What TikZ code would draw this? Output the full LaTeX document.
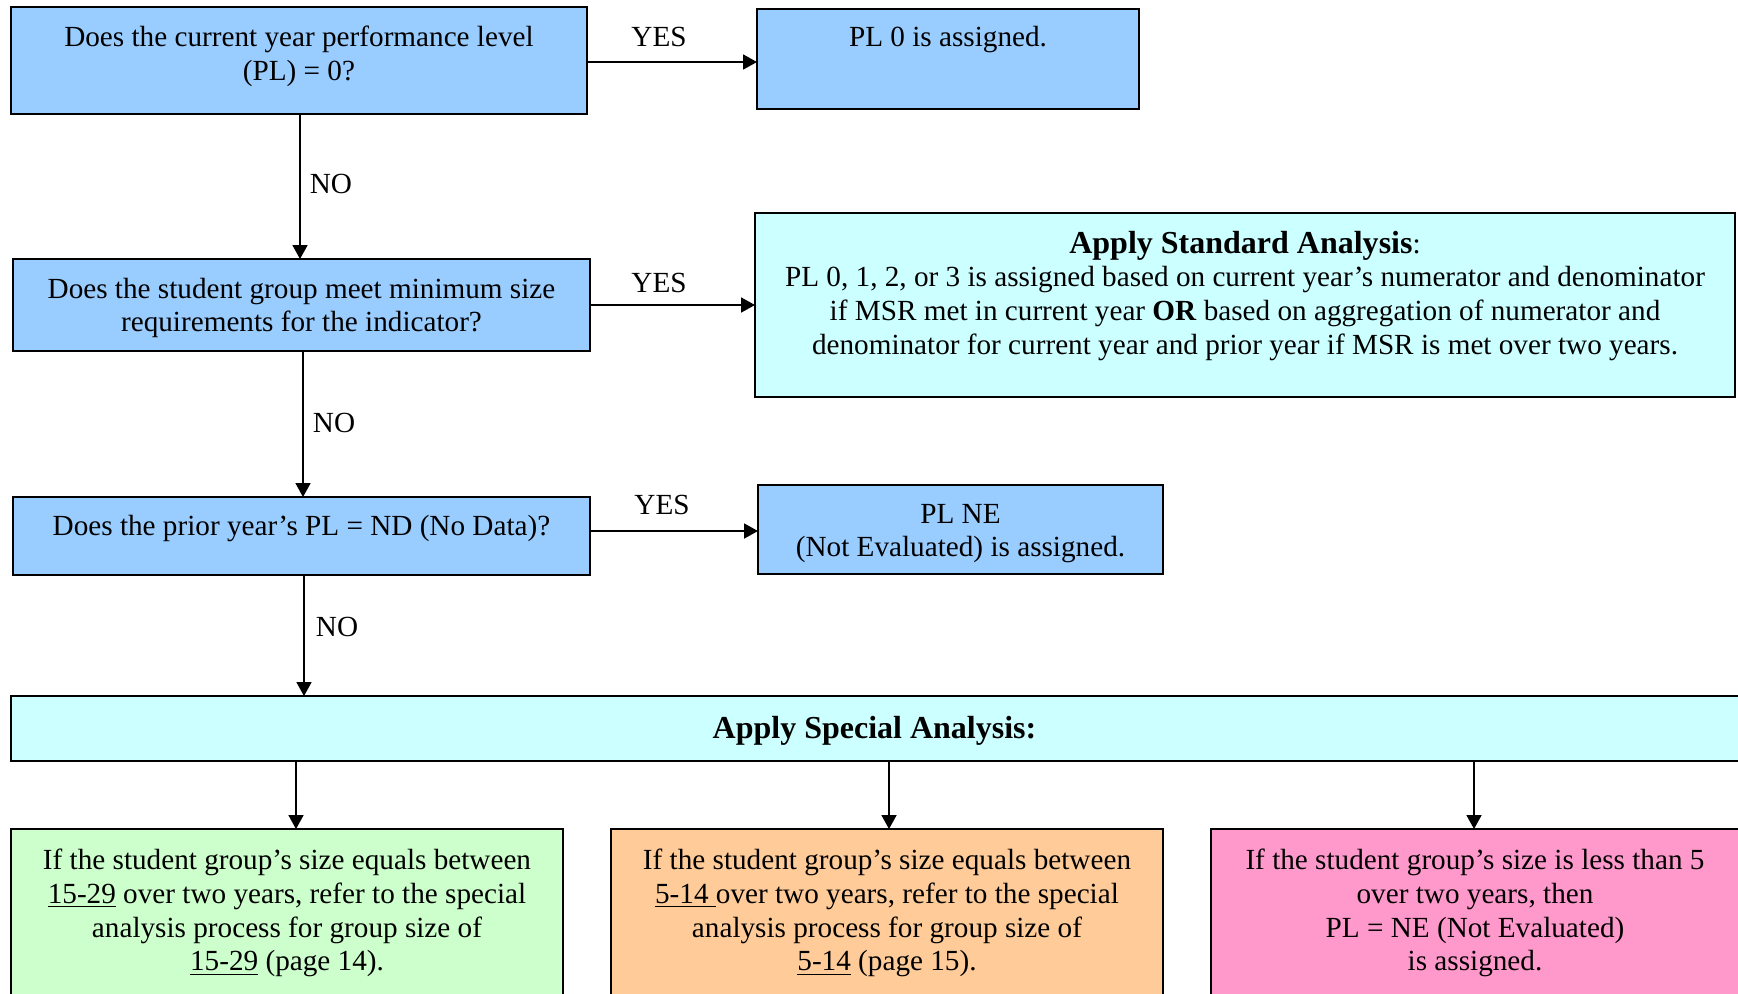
\documentclass[tikz,border=0pt]{standalone}
\usepackage{fontspec}
\setmainfont{Liberation Serif}
\usetikzlibrary{arrows.meta,calc}
\definecolor{qblue}{RGB}{153,204,255}
\definecolor{qcyan}{RGB}{204,255,255}
\definecolor{qgreen}{RGB}{204,255,204}
\definecolor{qorange}{RGB}{255,204,153}
\definecolor{qpink}{RGB}{255,153,204}
\newcommand{\headfont}{\fontsize{16}{16.9}\selectfont\bfseries}
\begin{document}
\begin{tikzpicture}[x=0.5pt,y=-0.5pt,
  box/.style={draw=black,line width=1.1pt,inner sep=0pt,outer sep=0pt},
  txt/.style={anchor=north,inner sep=0pt,align=center,font=\fontsize{14.6}{16.9}\selectfont},
  lbl/.style={inner sep=0pt,font=\fontsize{14.6}{16.9}\selectfont},
  arr/.style={line width=0.9pt,-{Triangle[length=7pt,width=7.5pt]}}]
\useasboundingbox (0,0) rectangle (1738,993);
\clip (0,0) rectangle (1738,993);
% boxes
\node[box,fill=qblue,minimum width=288pt,minimum height=53.5pt] (b1) at (299,60.5) {};
\node[box,fill=qblue,minimum width=191pt,minimum height=50pt] (pl0) at (948,59) {};
\node[box,fill=qblue,minimum width=288.5pt,minimum height=46pt] (b2) at (301.5,305) {};
\node[box,fill=qcyan,minimum width=490pt,minimum height=92pt] (std) at (1245,305) {};
\node[box,fill=qblue,minimum width=288.5pt,minimum height=39pt] (b3) at (301.5,536) {};
\node[box,fill=qblue,minimum width=202.5pt,minimum height=44.5pt] (ne) at (960.5,529.5) {};
\node[box,fill=qcyan,minimum width=865.5pt,minimum height=32.5pt] (sp) at (876.5,728.5) {};
\node[box,fill=qgreen,minimum width=276pt,minimum height=90.5pt] (gr) at (287,919.5) {};
\node[box,fill=qorange,minimum width=276pt,minimum height=90.5pt] (or) at (887,919.5) {};
\node[box,fill=qpink,minimum width=267pt,minimum height=90.5pt] (pk) at (1478,919.5) {};
% texts
\node[txt] (b1t) at (299,26) {Does the current year performance level\\(PL) = 0?};
\node[txt] (pl0t) at (948,26) {PL 0 is assigned.};
\node[txt] (b2t) at (301.5,277.5) {Does the student group meet minimum size\\requirements for the indicator?};
\node[txt] (stdt) at (1245,230.5) {{\headfont Apply Standard Analysis}:\\PL 0, 1, 2, or 3 is assigned based on current year’s numerator and denominator\\if MSR met in current year \textbf{OR} based on aggregation of numerator and\\denominator for current year and prior year if MSR is met over two years.};
\node[txt] (b3t) at (301.5,514.5) {Does the prior year’s PL = ND (No Data)?};
\node[txt] (net) at (960.5,503.5) {PL NE\\(Not Evaluated) is assigned.};
\node[txt] (spt) at (874.5,716) {{\headfont Apply Special Analysis:}};
\node[txt] (grt) at (287,848.5) {If the student group’s size equals between\\\underline{15-29} over two years, refer to the special\\analysis process for group size of\\\underline{15-29} (page 14).};
\node[txt] (ort) at (887,848.5) {If the student group’s size equals between\\\underline{5-14\ }over two years, refer to the special\\analysis process for group size of\\\underline{5-14} (page 15).};
\node[txt] (pkt) at (1475,848.5) {If the student group’s size is less than 5\\over two years, then\\PL = NE (Not Evaluated)\\is assigned.};
% labels
\node[lbl] (y1) at (659,37) {YES};
\node[lbl] (y2) at (659,283) {YES};
\node[lbl] (y3) at (662,505) {YES};
\node[lbl] (n1) at (331,184) {NO};
\node[lbl] (n2) at (334,423) {NO};
\node[lbl] (n3) at (337,627) {NO};
% connectors
\draw[arr] ([yshift=-0.75pt]b1.east) -- ([yshift=-0.75pt]b1.east -| pl0.west);
\draw[arr] (b2.east) -- (b2.east -| std.west);
\draw[arr] ([yshift=2.5pt]b3.east) -- ([yshift=2.5pt]b3.east -| ne.west);
\draw[arr] ([xshift=0.5pt]b1.south) -- ([xshift=0.5pt]b1.south |- b2.north);
\draw[arr] ([xshift=0.75pt]b2.south) -- ([xshift=0.75pt]b2.south |- b3.north);
\draw[arr] ([xshift=1.25pt]b3.south) -- ([xshift=1.25pt]b3.south |- sp.north);
\draw[arr] ([xshift=4.5pt]gr.north |- sp.south) -- ([xshift=4.5pt]gr.north);
\draw[arr] ([xshift=1pt]or.north |- sp.south) -- ([xshift=1pt]or.north);
\draw[arr] ([xshift=-2pt]pk.north |- sp.south) -- ([xshift=-2pt]pk.north);
\end{tikzpicture}
\end{document}
